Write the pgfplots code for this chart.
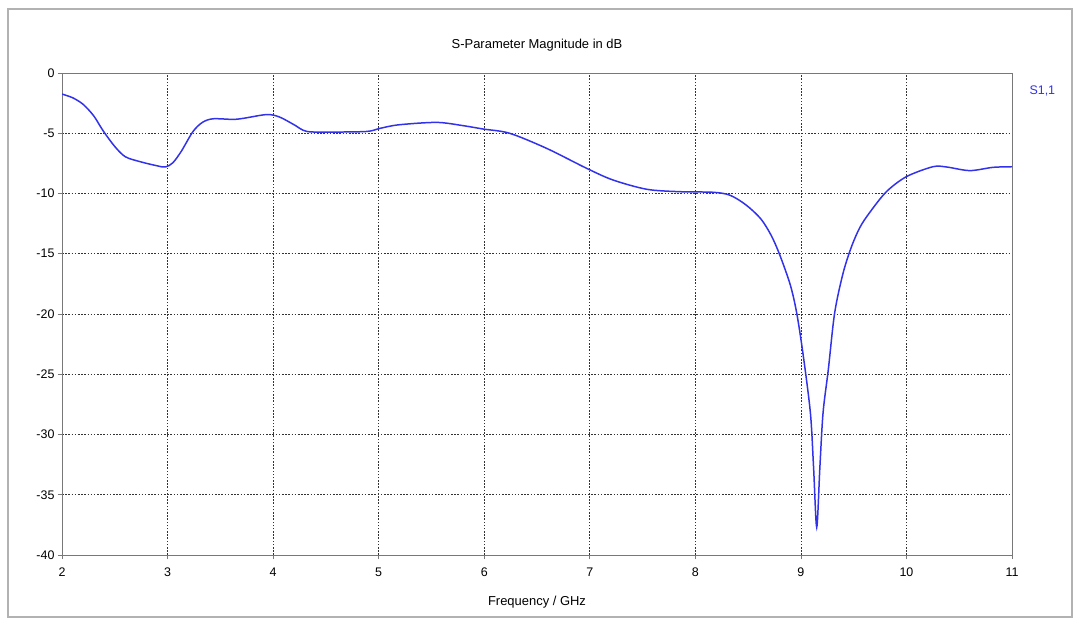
\documentclass[border=0pt]{standalone}
\usepackage{pgfplots}
\pgfplotsset{compat=1.18}
\usepackage{fontspec}
\setmainfont{Liberation Sans}
\definecolor{curve}{RGB}{50,50,235}
\definecolor{frame}{RGB}{120,120,120}
\begin{document}
\begin{tikzpicture}
\path[use as bounding box, fill=white] (-62bp,-69bp) rectangle (1013bp,555bp);
\draw[gray!60, line width=1.2pt] (-54bp,-62bp) rectangle (1010bp,546bp);
\begin{axis}[
  at={(0,0)}, anchor=south west,
  scale only axis,
  width=950bp, height=482bp,
  xmin=2, xmax=11,
  ymin=-40, ymax=0,
  xtick={2,3,...,11},
  ytick={-40,-35,...,0},
  grid=major,
  grid style={black!80, line width=0.6pt, dash pattern=on 1.6pt off 1.6pt},
  axis line style={frame, line width=0.8pt},
  tick align=outside,
  tick style={frame, line width=0.6pt},
  major tick length=4bp,
  xtick pos=bottom, ytick pos=left,
  tick label style={font=\fontsize{12.5}{14}\selectfont, black},
  xticklabel style={yshift=-5bp},
  /pgf/number format/assume math mode=true,
  clip mode=individual,
  title={S-Parameter Magnitude in dB},
  title style={font=\fontsize{13}{15}\selectfont, yshift=12bp},
  xlabel={Frequency / GHz},
  xlabel style={font=\fontsize{13}{15}\selectfont, yshift=-13bp},
]
\addplot[curve, line width=1.5pt, smooth, tension=0.5] coordinates {
(2.00,-1.75) (2.10,-2.05) (2.20,-2.6) (2.30,-3.55) (2.39,-4.8) (2.50,-6.1)
(2.60,-6.95) (2.74,-7.36) (2.90,-7.7) (2.98,-7.8) (3.05,-7.45) (3.13,-6.5)
(3.24,-4.87) (3.33,-4.1) (3.43,-3.8) (3.62,-3.85) (3.72,-3.76) (3.94,-3.45)
(4.06,-3.65) (4.20,-4.3) (4.32,-4.85) (4.57,-4.9) (4.89,-4.85) (5.01,-4.6)
(5.19,-4.3) (5.55,-4.1) (5.80,-4.37) (5.99,-4.65) (6.24,-5.0) (6.59,-6.25)
(6.97,-7.91) (7.22,-8.88) (7.54,-9.65) (7.85,-9.85) (8.17,-9.9) (8.33,-10.15)
(8.48,-10.95) (8.62,-12.1) (8.72,-13.5) (8.80,-15.1) (8.90,-17.6) (8.96,-19.9)
(9.02,-23.3) (9.09,-28.2) (9.12,-32.7) (9.15,-37.7) (9.18,-32.7) (9.21,-28.2)
(9.26,-24.6) (9.32,-19.9) (9.40,-16.6) (9.48,-14.4) (9.56,-12.8) (9.65,-11.6)
(9.81,-9.85) (10.0,-8.6) (10.25,-7.78) (10.38,-7.8) (10.60,-8.1) (10.82,-7.83)
(11.0,-7.78)
};
\node[anchor=west, text=curve, font=\fontsize{12.5}{14}\selectfont] at (rel axis cs:1,0.963) [xshift=14bp] {S1,1};
\end{axis}
\end{tikzpicture}
\end{document}
